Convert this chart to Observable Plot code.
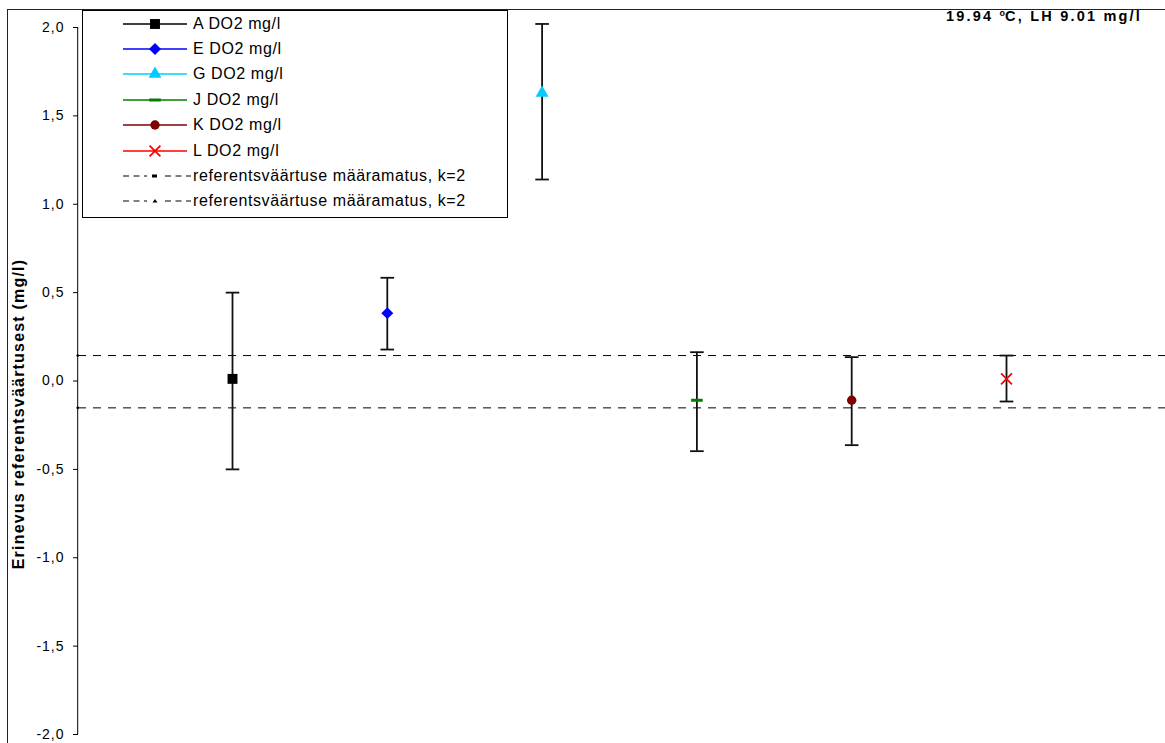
<!DOCTYPE html>
<html>
<head>
<meta charset="utf-8">
<script src="https://cdn.jsdelivr.net/npm/d3@7"></script>
<script src="https://cdn.jsdelivr.net/npm/@observablehq/plot@0.6"></script>
<style>
  html, body { margin: 0; padding: 0; background: #fff; }
  #wrap { position: relative; width: 1165px; height: 743px; overflow: hidden; font-family: "Liberation Sans", Arial, sans-serif; }
  #wrap svg text { letter-spacing: 1px; }
  #outer { position: absolute; left: 7px; top: 9px; right: -5px; bottom: -5px; border-top: 1.6px solid #222; border-left: 1.6px solid #222; pointer-events: none; }
  #legend { position: absolute; left: 82px; top: 10px; width: 424px; height: 206px; border: 1px solid #000; background: #fff; }
  .lrow { position: absolute; left: 0; height: 20px; }
  .lrow svg { position: absolute; left: 40px; top: 0; }
  .lrow span { position: absolute; left: 110px; top: 1px; font-size: 16px; letter-spacing: 0.6px; white-space: nowrap; line-height: 18px; color: #000; }
  #note { position: absolute; right: 23px; top: 8px; font-size: 14.5px; font-weight: bold; letter-spacing: 2.2px; white-space: nowrap; }
  #note sup { font-size: 9px; vertical-align: 5px; letter-spacing: 0; }
  #ylab { position: absolute; left: 19px; top: 414px; transform: translate(-50%, -50%) rotate(-90deg); font-size: 16px; font-weight: bold; letter-spacing: 1.2px; white-space: nowrap; line-height: 18px; }
</style>
</head>
<body>
<div id="wrap"></div>
<script>
// ---- data ----
const categories = ["A", "E", "G", "J", "K", "L"];
const seriesLabels = ["A DO2 mg/l", "E DO2 mg/l", "G DO2 mg/l", "J DO2 mg/l", "K DO2 mg/l", "L DO2 mg/l"];
const values = [0.012, 0.384, 1.63, -0.109, -0.109, 0.012];
const lower  = [-0.50, 0.178, 1.14, -0.397, -0.363, -0.116];
const upper  = [0.50, 0.584, 2.02, 0.163, 0.135, 0.144];
const refBand = [0.144, -0.152];
const refLabels = ["referentsväärtuse määramatus, k=2", "referentsväärtuse määramatus, k=2"];
const yTicks = [-2, -1.5, -1, -0.5, 0, 0.5, 1, 1.5, 2];
const yLabel = "Erinevus referentsväärtusest (mg/l)";
const noteText = ["19.94 ", "o", "C, LH 9.01 mg/l"];

// ---- styles ----
const colors = ["#000000", "#0000FF", "#00CCFF", "#008000", "#800000", "#FF0000"];
const hbar = { draw(ctx, size) { const r = Math.sqrt(size / Math.PI); ctx.rect(-r, -1.5, 2 * r, 3); } };
const hcap = { draw(ctx, size) { const r = Math.sqrt(size / Math.PI); ctx.moveTo(-r, 0); ctx.lineTo(r, 0); } };
const symbols = ["square", "diamond2", "triangle", hbar, "circle", "times"];
const sizes = [5.6, 5.4, 4.8, 5.8, 4.7, 5.0];

const data = categories.map((c, i) => ({
  cat: c, x: i + 1, value: values[i], lo: lower[i], hi: upper[i]
}));

const fmt = d => d3.format(".1f")(d).replace(".", ",").replace("\u2212", "-");

const marks = [
  Plot.ruleY(refBand, { stroke: "#000", strokeWidth: 1, strokeDasharray: "8,7" }),
  Plot.dot(refBand, { x: () => 0, y: d => d, r: 1.3, fill: "#000" }),
  Plot.ruleX([0], { stroke: "#000", strokeWidth: 1 }),
  Plot.axisY({
    ticks: yTicks, tickSize: 5, tickPadding: 9, tickFormat: fmt,
    label: null, fontSize: 14, stroke: "#000"
  }),
  Plot.ruleX(data, { x: "x", y1: "lo", y2: "hi", stroke: "#111", strokeWidth: 1.8 }),
  Plot.dot(data, { x: "x", y: "hi", symbol: hcap, r: 6.8, stroke: "#111", strokeWidth: 1.8, fill: "none" }),
  Plot.dot(data, { x: "x", y: "lo", symbol: hcap, r: 6.8, stroke: "#111", strokeWidth: 1.8, fill: "none" })
];
data.forEach((d, i) => {
  const isTimes = symbols[i] === "times";
  marks.push(Plot.dot([d], {
    x: "x", y: "value", symbol: symbols[i], r: sizes[i],
    fill: isTimes ? "none" : colors[i],
    stroke: isTimes ? colors[i] : "none",
    strokeWidth: isTimes ? 1.8 : 0
  }));
});

const chart = Plot.plot({
  width: 1165,
  height: 743,
  marginLeft: 78,
  marginRight: 0,
  marginTop: 27,
  marginBottom: 9,
  style: { fontFamily: "'Liberation Sans', Arial, sans-serif", fontSize: "14px", color: "#000", background: "transparent" },
  x: { domain: [0, 7], range: [77.2, 1160.8], axis: null },
  y: { domain: [-2, 2], axis: null },
  marks
});

const wrap = document.getElementById("wrap");
wrap.appendChild(chart);
const outer = document.createElement("div");
outer.id = "outer";
wrap.appendChild(outer);

// ---- y label ----
const ylab = document.createElement("div");
ylab.id = "ylab";
ylab.textContent = yLabel;
wrap.appendChild(ylab);

// ---- legend ----
const legend = document.createElement("div");
legend.id = "legend";
wrap.appendChild(legend);
const rowY0 = 12.5, rowStep = 25.4;
function symPath(sym, r) {
  const size = Math.PI * r * r;
  const type = typeof sym === "object" ? sym : ({
    square: d3.symbolSquare, diamond2: d3.symbolDiamond2, triangle: d3.symbolTriangle,
    circle: d3.symbolCircle, times: d3.symbolTimes
  })[sym];
  return d3.symbol(type, size)();
}
seriesLabels.forEach((lab, i) => {
  const row = document.createElement("div");
  row.className = "lrow";
  row.style.top = (rowY0 + i * rowStep - 10) + "px";
  const isTimes = symbols[i] === "times";
  const p = symPath(symbols[i], sizes[i]);
  row.innerHTML = `<svg width="66" height="20"><line x1="0" x2="64" y1="10" y2="10" stroke="${colors[i]}" stroke-width="1.4"/>` +
    `<path transform="translate(32,10)" d="${p}" fill="${isTimes ? "none" : colors[i]}" stroke="${isTimes ? colors[i] : "none"}" stroke-width="1.8"/></svg>` +
    `<span>${lab}</span>`;
  legend.appendChild(row);
});
refLabels.forEach((lab, j) => {
  const row = document.createElement("div");
  row.className = "lrow";
  row.style.top = (rowY0 + (6 + j) * rowStep - 10) + "px";
  const mk = j === 0
    ? `<rect x="29" y="8.5" width="5" height="3" fill="#000"/>`
    : `<path d="M29.5,11.5 L32,8 L34.5,11.5 Z" fill="#000"/>`;
  row.innerHTML = `<svg width="70" height="20"><line x1="0" x2="24" y1="10" y2="10" stroke="#000" stroke-width="1" stroke-dasharray="6,4.5"/>` +
    `<line x1="42" x2="68" y1="10" y2="10" stroke="#000" stroke-width="1" stroke-dasharray="6,4.5"/>${mk}</svg>` +
    `<span>${lab}</span>`;
  legend.appendChild(row);
});

// ---- note ----
const note = document.createElement("div");
note.id = "note";
note.innerHTML = `${noteText[0]}<sup>${noteText[1]}</sup>${noteText[2]}`;
wrap.appendChild(note);
</script>
</body>
</html>
